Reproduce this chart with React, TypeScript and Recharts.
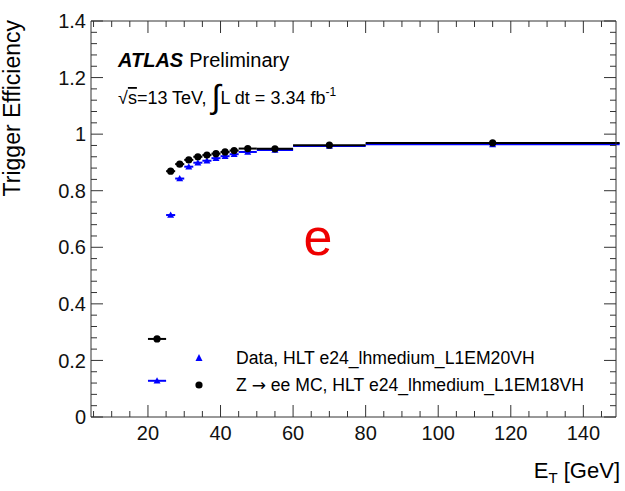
import React from 'react';
import { ScatterChart, Scatter, XAxis, YAxis, ErrorBar } from 'recharts';

// Bin centres (E_T, GeV) and half widths
const binCenters = [22.5, 26.25, 28.75, 31.25, 33.75, 36.25, 38.75, 41.25, 43.75, 47.5, 55, 70, 115];
const binHalfWidths = [2.5, 1.25, 1.25, 1.25, 1.25, 1.25, 1.25, 1.25, 1.25, 2.5, 5, 10, 35];
// Data, HLT e24_lhmedium_L1EM20VH
const dataEff = [0.128, 0.714, 0.843, 0.885, 0.899, 0.906, 0.915, 0.922, 0.929, 0.937, 0.944, 0.958, 0.964];
// Z -> ee MC, HLT e24_lhmedium_L1EM18VH
const mcEff = [0.276, 0.869, 0.894, 0.909, 0.92, 0.926, 0.931, 0.937, 0.942, 0.949, 0.948, 0.961, 0.969];

const xDomain = [4.3, 149];
const yDomain = [0, 1.4];
const xMajorTicks = [20, 40, 60, 80, 100, 120, 140];
const xAllTicks = [5, 10, 15, 20, 25, 30, 35, 40, 45, 50, 55, 60, 65, 70, 75, 80, 85, 90, 95, 100, 105, 110, 115, 120, 125, 130, 135, 140, 145];
const yMajorTicks = [0, 0.2, 0.4, 0.6, 0.8, 1, 1.2, 1.4];
const yAllTicks = [0, 0.04, 0.08, 0.12, 0.16, 0.2, 0.24, 0.28, 0.32, 0.36, 0.4, 0.44, 0.48, 0.52, 0.56, 0.6, 0.64, 0.68, 0.72, 0.76, 0.8, 0.84, 0.88, 0.92, 0.96, 1, 1.04, 1.08, 1.12, 1.16, 1.2, 1.24, 1.28, 1.32, 1.36, 1.4];

const dataPoints = binCenters.map((x, i) => ({ x, y: dataEff[i], xerr: binHalfWidths[i] }));
const mcPoints = binCenters.map((x, i) => ({ x, y: mcEff[i], xerr: binHalfWidths[i] }));

const FONT = '"Liberation Sans", Arial, Helvetica, sans-serif';
const AXIS_COLOR = '#333';
const MAJOR = 12;
const MINOR = 6;

const isMajor = (v: number, majors: number[]) => majors.some((m) => Math.abs(m - v) < 1e-6);

const BottomTick = (props: any) => {
  const { x, y, payload } = props;
  const v = payload.value;
  const major = isMajor(v, xMajorTicks);
  return (
    <g>
      <line x1={x} y1={y} x2={x} y2={y - (major ? MAJOR : MINOR)} stroke={AXIS_COLOR} strokeWidth={1} />
      {major && (
        <text x={x} y={y + 9} dy="0.71em" textAnchor="middle" fontFamily={FONT} fontSize={20} fill="#111">
          {String(v)}
        </text>
      )}
    </g>
  );
};

const TopTick = (props: any) => {
  const { x, y, payload } = props;
  const major = isMajor(payload.value, xMajorTicks);
  return <line x1={x} y1={y} x2={x} y2={y + (major ? MAJOR : MINOR)} stroke={AXIS_COLOR} strokeWidth={1} />;
};

const LeftTick = (props: any) => {
  const { x, y, payload } = props;
  const v = payload.value;
  const major = isMajor(v, yMajorTicks);
  return (
    <g>
      <line x1={x} y1={y} x2={x + (major ? MAJOR : MINOR)} y2={y} stroke={AXIS_COLOR} strokeWidth={1} />
      {major && (
        <text x={x - 5} y={y} dy="0.355em" textAnchor="end" fontFamily={FONT} fontSize={20} fill="#111">
          {String(v)}
        </text>
      )}
    </g>
  );
};

const RightTick = (props: any) => {
  const { x, y, payload } = props;
  const major = isMajor(payload.value, yMajorTicks);
  return <line x1={x} y1={y} x2={x - (major ? MAJOR : MINOR)} y2={y} stroke={AXIS_COLOR} strokeWidth={1} />;
};

const Triangle = (props: any) => {
  const { cx, cy } = props;
  if (cx == null || cy == null) return null;
  return <polygon points={`${cx - 3.5},${cy + 2.8} ${cx + 3.5},${cy + 2.8} ${cx},${cy - 3.5}`} fill="#0000ff" />;
};

const Dot = (props: any) => {
  const { cx, cy } = props;
  if (cx == null || cy == null) return null;
  return <circle cx={cx} cy={cy} r={3.6} fill="#000" />;
};

export default function App() {
  return (
    <div style={{ position: 'absolute', left: 0, top: 0, width: 625, height: 491, background: '#fff' }}>
      <ScatterChart width={625} height={491} margin={{ top: 20, right: 8, bottom: 73, left: 90 }}>
        <XAxis
          xAxisId="b"
          type="number"
          dataKey="x"
          domain={xDomain}
          allowDataOverflow
          ticks={xAllTicks}
          interval={0}
          tickSize={0}
          tickMargin={0}
          tickLine={false}
          tick={<BottomTick />}
          height={1}
          orientation="bottom"
          stroke={AXIS_COLOR}
        />
        <XAxis
          xAxisId="t"
          type="number"
          dataKey="x"
          domain={xDomain}
          allowDataOverflow
          ticks={xAllTicks}
          interval={0}
          tickSize={0}
          tickMargin={0}
          tickLine={false}
          tick={<TopTick />}
          height={1}
          orientation="top"
          stroke={AXIS_COLOR}
        />
        <YAxis
          yAxisId="l"
          type="number"
          dataKey="y"
          domain={yDomain}
          allowDataOverflow
          ticks={yAllTicks}
          interval={0}
          tickSize={0}
          tickMargin={0}
          tickLine={false}
          tick={<LeftTick />}
          width={1}
          orientation="left"
          stroke={AXIS_COLOR}
        />
        <YAxis
          yAxisId="r"
          type="number"
          dataKey="y"
          domain={yDomain}
          allowDataOverflow
          ticks={yAllTicks}
          interval={0}
          tickSize={0}
          tickMargin={0}
          tickLine={false}
          tick={<RightTick />}
          width={1}
          orientation="right"
          stroke={AXIS_COLOR}
        />
        <Scatter
          name="Data"
          data={dataPoints}
          xAxisId="b"
          yAxisId="l"
          fill="#0000ff"
          shape={<Triangle />}
          isAnimationActive={false}
        >
          <ErrorBar dataKey="xerr" direction="x" width={0} stroke="#0000ff" strokeWidth={2} isAnimationActive={false} />
        </Scatter>
        <Scatter
          name="MC"
          data={mcPoints}
          xAxisId="b"
          yAxisId="l"
          fill="#000"
          shape={<Dot />}
          isAnimationActive={false}
        >
          <ErrorBar dataKey="xerr" direction="x" width={0} stroke="#000" strokeWidth={2} isAnimationActive={false} />
        </Scatter>
      </ScatterChart>
      <svg width={625} height={491} style={{ position: 'absolute', left: 0, top: 0, pointerEvents: 'none' }} fontFamily={FONT}>
        <text x={118} y={67} fontSize={20} fill="#000">
          <tspan fontWeight="bold" fontStyle="italic">ATLAS</tspan>
          <tspan dx={6}>Preliminary</tspan>
        </text>
        <text x={118} y={104} fontSize={18} fill="#000">
          <tspan>√</tspan>
          <tspan style={{ textDecoration: 'overline' }}>s</tspan>
          <tspan>=13 TeV, </tspan>
          <tspan fontSize={33} fontWeight={300} dy={4}>∫</tspan>
          <tspan dy={-4}>L dt = 3.34 fb</tspan>
          <tspan fontSize={12} dy={-8}>-1</tspan>
        </text>
        <text x={318} y={255} textAnchor="middle" fontSize={52} fill="#ee0000">e</text>
        <polygon points="195.5,361 202.5,361 199,354" fill="#0000ff" />
        <text x={236} y={364} fontSize={17.6} fill="#000">Data, HLT e24_lhmedium_L1EM20VH</text>
        <circle cx={199} cy={385} r={3.6} fill="#000" />
        <text x={236} y={391} fontSize={17.6} fill="#000">
          <tspan>Z </tspan>
          <tspan fontFamily='"DejaVu Sans", sans-serif' fontSize={17}>→</tspan>
          <tspan> ee MC, HLT e24_lhmedium_L1EM18VH</tspan>
        </text>
        <text x={620} y={478} textAnchor="end" fontSize={22} fill="#000">
          <tspan>E</tspan>
          <tspan fontSize={15} dy={5}>T</tspan>
          <tspan dy={-5}> [GeV]</tspan>
        </text>
        <text x={20} y={20} textAnchor="end" fontSize={23} fill="#000" transform="rotate(-90 20 20)">Trigger Efficiency</text>
      </svg>
    </div>
  );
}
